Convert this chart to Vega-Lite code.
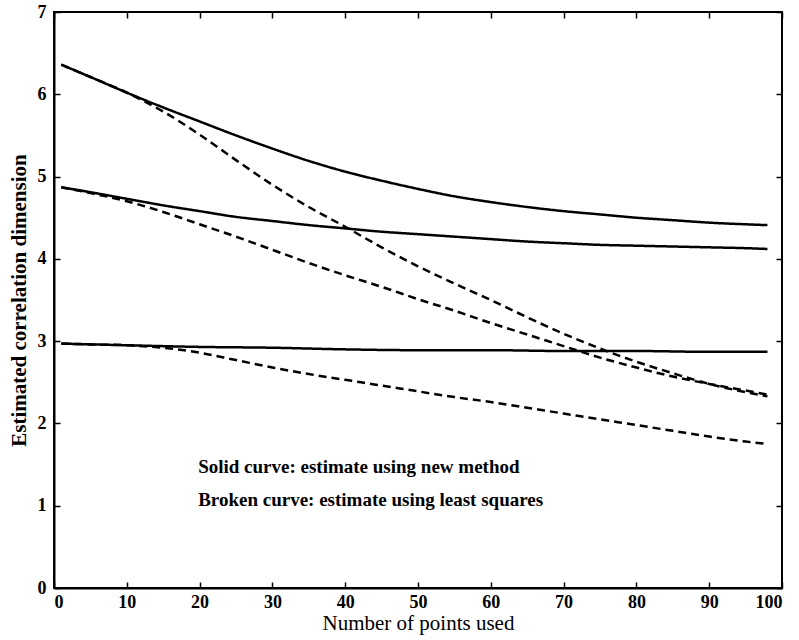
{
  "$schema": "https://vega.github.io/schema/vega-lite/v6.json",
  "width": 728,
  "height": 576,
  "autosize": {"type": "none"},
  "padding": {"left": 54, "top": 12, "right": 17, "bottom": 52},
  "background": "white",
  "config": {
    "view": {"stroke": "black", "strokeWidth": 2},
    "axis": {
      "domainColor": "black", "domainWidth": 2, "tickColor": "black", "tickWidth": 1.5,
      "grid": false, "labelFont": "Liberation Serif", "labelFontSize": 18, "labelFontWeight": "bold",
      "labelColor": "black", "titleFont": "Liberation Serif", "titleFontSize": 21,
      "titleFontWeight": "normal", "titleColor": "black"
    }
  },
  "datasets": {
    "curves": [
      {"x": 1, "y": 6.36, "curve": "S1", "style": "solid"},
      {"x": 5, "y": 6.21, "curve": "S1", "style": "solid"},
      {"x": 10, "y": 6.02, "curve": "S1", "style": "solid"},
      {"x": 15, "y": 5.84, "curve": "S1", "style": "solid"},
      {"x": 20, "y": 5.67, "curve": "S1", "style": "solid"},
      {"x": 25, "y": 5.50, "curve": "S1", "style": "solid"},
      {"x": 30, "y": 5.34, "curve": "S1", "style": "solid"},
      {"x": 35, "y": 5.19, "curve": "S1", "style": "solid"},
      {"x": 40, "y": 5.06, "curve": "S1", "style": "solid"},
      {"x": 45, "y": 4.95, "curve": "S1", "style": "solid"},
      {"x": 50, "y": 4.85, "curve": "S1", "style": "solid"},
      {"x": 55, "y": 4.76, "curve": "S1", "style": "solid"},
      {"x": 60, "y": 4.69, "curve": "S1", "style": "solid"},
      {"x": 65, "y": 4.63, "curve": "S1", "style": "solid"},
      {"x": 70, "y": 4.58, "curve": "S1", "style": "solid"},
      {"x": 75, "y": 4.54, "curve": "S1", "style": "solid"},
      {"x": 80, "y": 4.50, "curve": "S1", "style": "solid"},
      {"x": 85, "y": 4.47, "curve": "S1", "style": "solid"},
      {"x": 90, "y": 4.44, "curve": "S1", "style": "solid"},
      {"x": 95, "y": 4.42, "curve": "S1", "style": "solid"},
      {"x": 98, "y": 4.41, "curve": "S1", "style": "solid"},

      {"x": 1, "y": 4.87, "curve": "S2", "style": "solid"},
      {"x": 5, "y": 4.81, "curve": "S2", "style": "solid"},
      {"x": 10, "y": 4.73, "curve": "S2", "style": "solid"},
      {"x": 15, "y": 4.65, "curve": "S2", "style": "solid"},
      {"x": 20, "y": 4.58, "curve": "S2", "style": "solid"},
      {"x": 25, "y": 4.51, "curve": "S2", "style": "solid"},
      {"x": 30, "y": 4.46, "curve": "S2", "style": "solid"},
      {"x": 35, "y": 4.41, "curve": "S2", "style": "solid"},
      {"x": 40, "y": 4.37, "curve": "S2", "style": "solid"},
      {"x": 45, "y": 4.33, "curve": "S2", "style": "solid"},
      {"x": 50, "y": 4.30, "curve": "S2", "style": "solid"},
      {"x": 55, "y": 4.27, "curve": "S2", "style": "solid"},
      {"x": 60, "y": 4.24, "curve": "S2", "style": "solid"},
      {"x": 65, "y": 4.21, "curve": "S2", "style": "solid"},
      {"x": 70, "y": 4.19, "curve": "S2", "style": "solid"},
      {"x": 75, "y": 4.17, "curve": "S2", "style": "solid"},
      {"x": 80, "y": 4.16, "curve": "S2", "style": "solid"},
      {"x": 85, "y": 4.15, "curve": "S2", "style": "solid"},
      {"x": 90, "y": 4.14, "curve": "S2", "style": "solid"},
      {"x": 95, "y": 4.13, "curve": "S2", "style": "solid"},
      {"x": 98, "y": 4.12, "curve": "S2", "style": "solid"},

      {"x": 1, "y": 2.97, "curve": "S3", "style": "solid"},
      {"x": 10, "y": 2.95, "curve": "S3", "style": "solid"},
      {"x": 20, "y": 2.93, "curve": "S3", "style": "solid"},
      {"x": 30, "y": 2.92, "curve": "S3", "style": "solid"},
      {"x": 40, "y": 2.90, "curve": "S3", "style": "solid"},
      {"x": 50, "y": 2.89, "curve": "S3", "style": "solid"},
      {"x": 60, "y": 2.89, "curve": "S3", "style": "solid"},
      {"x": 70, "y": 2.88, "curve": "S3", "style": "solid"},
      {"x": 80, "y": 2.88, "curve": "S3", "style": "solid"},
      {"x": 90, "y": 2.87, "curve": "S3", "style": "solid"},
      {"x": 98, "y": 2.87, "curve": "S3", "style": "solid"},

      {"x": 1, "y": 6.36, "curve": "D1", "style": "broken"},
      {"x": 5, "y": 6.21, "curve": "D1", "style": "broken"},
      {"x": 10, "y": 6.02, "curve": "D1", "style": "broken"},
      {"x": 15, "y": 5.79, "curve": "D1", "style": "broken"},
      {"x": 20, "y": 5.51, "curve": "D1", "style": "broken"},
      {"x": 25, "y": 5.20, "curve": "D1", "style": "broken"},
      {"x": 30, "y": 4.90, "curve": "D1", "style": "broken"},
      {"x": 35, "y": 4.63, "curve": "D1", "style": "broken"},
      {"x": 40, "y": 4.39, "curve": "D1", "style": "broken"},
      {"x": 45, "y": 4.14, "curve": "D1", "style": "broken"},
      {"x": 50, "y": 3.91, "curve": "D1", "style": "broken"},
      {"x": 55, "y": 3.70, "curve": "D1", "style": "broken"},
      {"x": 60, "y": 3.50, "curve": "D1", "style": "broken"},
      {"x": 65, "y": 3.29, "curve": "D1", "style": "broken"},
      {"x": 70, "y": 3.09, "curve": "D1", "style": "broken"},
      {"x": 75, "y": 2.91, "curve": "D1", "style": "broken"},
      {"x": 80, "y": 2.75, "curve": "D1", "style": "broken"},
      {"x": 85, "y": 2.61, "curve": "D1", "style": "broken"},
      {"x": 90, "y": 2.48, "curve": "D1", "style": "broken"},
      {"x": 95, "y": 2.38, "curve": "D1", "style": "broken"},
      {"x": 98, "y": 2.33, "curve": "D1", "style": "broken"},

      {"x": 1, "y": 4.87, "curve": "D2", "style": "broken"},
      {"x": 5, "y": 4.80, "curve": "D2", "style": "broken"},
      {"x": 10, "y": 4.70, "curve": "D2", "style": "broken"},
      {"x": 15, "y": 4.57, "curve": "D2", "style": "broken"},
      {"x": 20, "y": 4.42, "curve": "D2", "style": "broken"},
      {"x": 25, "y": 4.27, "curve": "D2", "style": "broken"},
      {"x": 30, "y": 4.11, "curve": "D2", "style": "broken"},
      {"x": 35, "y": 3.95, "curve": "D2", "style": "broken"},
      {"x": 40, "y": 3.80, "curve": "D2", "style": "broken"},
      {"x": 45, "y": 3.66, "curve": "D2", "style": "broken"},
      {"x": 50, "y": 3.51, "curve": "D2", "style": "broken"},
      {"x": 55, "y": 3.37, "curve": "D2", "style": "broken"},
      {"x": 60, "y": 3.22, "curve": "D2", "style": "broken"},
      {"x": 65, "y": 3.08, "curve": "D2", "style": "broken"},
      {"x": 70, "y": 2.94, "curve": "D2", "style": "broken"},
      {"x": 75, "y": 2.80, "curve": "D2", "style": "broken"},
      {"x": 80, "y": 2.68, "curve": "D2", "style": "broken"},
      {"x": 85, "y": 2.57, "curve": "D2", "style": "broken"},
      {"x": 90, "y": 2.48, "curve": "D2", "style": "broken"},
      {"x": 95, "y": 2.40, "curve": "D2", "style": "broken"},
      {"x": 98, "y": 2.35, "curve": "D2", "style": "broken"},

      {"x": 1, "y": 2.97, "curve": "D3", "style": "broken"},
      {"x": 5, "y": 2.96, "curve": "D3", "style": "broken"},
      {"x": 10, "y": 2.95, "curve": "D3", "style": "broken"},
      {"x": 15, "y": 2.92, "curve": "D3", "style": "broken"},
      {"x": 20, "y": 2.86, "curve": "D3", "style": "broken"},
      {"x": 25, "y": 2.77, "curve": "D3", "style": "broken"},
      {"x": 30, "y": 2.68, "curve": "D3", "style": "broken"},
      {"x": 35, "y": 2.60, "curve": "D3", "style": "broken"},
      {"x": 40, "y": 2.53, "curve": "D3", "style": "broken"},
      {"x": 45, "y": 2.46, "curve": "D3", "style": "broken"},
      {"x": 50, "y": 2.39, "curve": "D3", "style": "broken"},
      {"x": 55, "y": 2.32, "curve": "D3", "style": "broken"},
      {"x": 60, "y": 2.26, "curve": "D3", "style": "broken"},
      {"x": 65, "y": 2.19, "curve": "D3", "style": "broken"},
      {"x": 70, "y": 2.12, "curve": "D3", "style": "broken"},
      {"x": 75, "y": 2.05, "curve": "D3", "style": "broken"},
      {"x": 80, "y": 1.98, "curve": "D3", "style": "broken"},
      {"x": 85, "y": 1.91, "curve": "D3", "style": "broken"},
      {"x": 90, "y": 1.84, "curve": "D3", "style": "broken"},
      {"x": 95, "y": 1.78, "curve": "D3", "style": "broken"},
      {"x": 98, "y": 1.75, "curve": "D3", "style": "broken"}
    ],
    "notes": [
      {"x": 19.8, "y": 1.47, "label": "Solid curve: estimate using new method"},
      {"x": 19.8, "y": 1.07, "label": "Broken curve: estimate using least squares"}
    ]
  },
  "layer": [
    {
      "data": {"name": "curves"},
      "mark": {"type": "line", "color": "black", "strokeWidth": 2.5, "interpolate": "monotone"},
      "encoding": {
        "x": {"field": "x", "type": "quantitative", "scale": {"domain": [0, 100], "nice": false},
          "axis": {"orient": "bottom", "values": [0,10,20,30,40,50,60,70,80,90,100], "tickSize": -6, "labelPadding": 11, "title": "Number of points used", "titlePadding": 1}},
        "y": {"field": "y", "type": "quantitative", "scale": {"domain": [0, 7], "nice": false},
          "axis": {"orient": "left", "values": [0,1,2,3,4,5,6,7], "tickSize": -6, "labelPadding": 14, "title": "Estimated correlation dimension", "titleFontWeight": "bold", "titlePadding": 8}},
        "detail": {"field": "curve"},
        "strokeDash": {"field": "style", "type": "nominal", "scale": {"domain": ["solid", "broken"], "range": [[1, 0], [8, 5]]}, "legend": null}
      }
    },
    {
      "data": {"name": "notes"},
      "mark": {"type": "text", "align": "left", "baseline": "middle", "font": "Liberation Serif", "fontSize": 19, "fontWeight": "bold", "color": "black"},
      "encoding": {
        "x": {"field": "x", "type": "quantitative",
          "axis": {"orient": "top", "values": [0,10,20,30,40,50,60,70,80,90,100], "tickSize": -6, "labels": false, "title": null, "domain": false}},
        "y": {"field": "y", "type": "quantitative",
          "axis": {"orient": "right", "values": [0,1,2,3,4,5,6,7], "tickSize": -6, "labels": false, "title": null, "domain": false}},
        "text": {"field": "label"}
      }
    }
  ],
  "resolve": {"axis": {"x": "independent", "y": "independent"}}
}
